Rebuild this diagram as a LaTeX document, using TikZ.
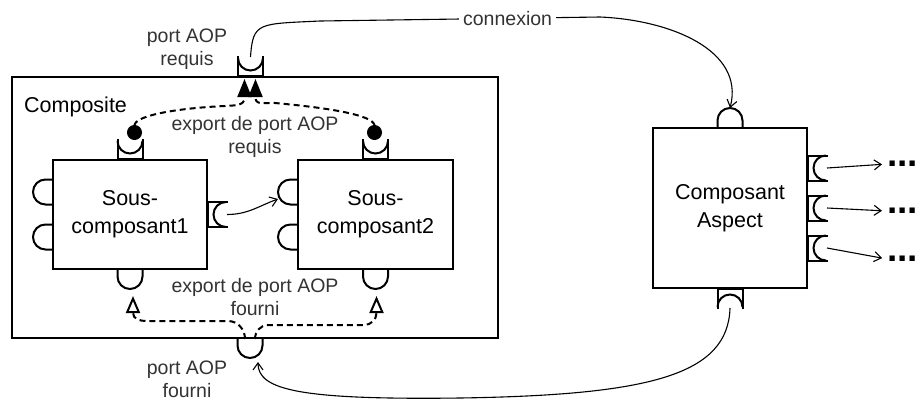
\documentclass[tikz,border=0pt]{standalone}
\usepackage{fontspec}
\setmainfont{Liberation Sans}
\usetikzlibrary{arrows.meta}
\newcommand{\boxfont}{\fontsize{21.5}{28}\selectfont}
\newcommand{\lblfont}{\fontsize{19.5}{23}\selectfont}
\tikzset{
    comp-box/.style = {draw, line width=2pt, rectangle, inner sep=0pt, align=center, font=\boxfont},
    box-title/.style = {inner sep=0pt, font=\boxfont},
    port-line/.style = {line width=2pt},
    port-label/.style = {text=black!80, align=center, inner sep=1pt, font=\lblfont},
    wire/.style = {line width=1.1pt, -{Straight Barb[length=7pt,width=10pt]}},
    export-line/.style = {line width=2pt, dash pattern=on 6pt off 4pt},
    more-dots/.style = {inner sep=0pt, font=\fontsize{37}{37}\selectfont\bfseries},
    % provided port: half disc on two short stubs
    pics/ball/.style = {code={
        \draw[port-line] (-12.5,0) -- (-12.5,6.5) arc[start angle=180, end angle=0, radius=12.5] -- (12.5,0);
        \coordinate (-tip) at (0,19);
        \coordinate (-base) at (0,0);
    }},
    % required port: open cup between two stubs
    pics/socket/.style = {code={
        \draw[port-line] (-12.5,20) -- (-12.5,0) -- (12.5,0) -- (12.5,20);
        \draw[port-line] (-12.5,18) arc[start angle=180, end angle=360, radius=12.5];
        \coordinate (-tip) at (0,19);
        \coordinate (-base) at (0,0);
    }},
}

\begin{document}
\begin{tikzpicture}[x=1pt, y=1pt]
\fill[white] (0,0) rectangle (917,-400);
\useasboundingbox (0,0) rectangle (917,-400);

% components
\node[comp-box, minimum width=486pt, minimum height=261pt] (composite) at (255,-207.5) {};
\node[box-title, anchor=base west] (composite-title) at ([xshift=13pt,yshift=-36pt]composite.north west) {Composite};
\node[comp-box, minimum width=154pt, minimum height=109pt] (sub1) at (130,-214.5) {Sous-\\composant1};
\node[comp-box, minimum width=155pt, minimum height=109pt] (sub2) at (375.5,-214.5) {Sous-\\composant2};
\node[comp-box, minimum width=154pt, minimum height=160pt] (aspect) at (730,-208) {Composant\\Aspect};

% ports of the composite
\pic (req) at ([xshift=-4.5pt]composite.north) {socket};
\pic[rotate=180] (prov) at ([xshift=-5pt]composite.south) {ball};

% ports of the sub-components
\pic (req1) at (sub1.north) {socket};
\pic (req2) at (sub2.north) {socket};
\pic[rotate=180] (prov1) at (sub1.south) {ball};
\pic[rotate=180] (prov2) at (sub2.south) {ball};
\pic[rotate=-90] (out1) at (sub1.east) {socket};
\pic[rotate=90] (in1a) at ([yshift=22.5pt]sub1.west) {ball};
\pic[rotate=90] (in1b) at ([yshift=-22.5pt]sub1.west) {ball};
\pic[rotate=90] (in2a) at ([yshift=22.5pt]sub2.west) {ball};
\pic[rotate=90] (in2b) at ([yshift=-22.5pt]sub2.west) {ball};

% ports of the aspect
\pic (asp-in) at (aspect.north) {ball};
\pic[rotate=180] (asp-out) at (aspect.south) {socket};
\foreach \i/\dy/\ty in {1/40/164, 2/0/211, 3/-40/259} {
    \pic[rotate=-90] (adv\i) at ([yshift=\dy pt]aspect.east) {socket};
    \node[more-dots, anchor=west] (more\i) at (887,-\ty) {...};
    \draw[wire, shorten >=5pt] (adv\i-tip) -- (more\i.west);
}

% labels
\node[port-label] (req-label) at (187,-49) {port AOP\\requis};
\node[port-label] (prov-label) at (187,-379) {port AOP\\fourni};
\node[port-label] (export-req) at (255,-137) {export de port AOP\\requis};
\node[port-label] (export-prov) at (255,-297.5) {export de port AOP\\fourni};

% connexions
\draw[wire] (req-tip) .. controls (253,-22) and (258,-24) .. (320,-21)
    -- node[port-label, fill=white, pos=0.67, inner xsep=4pt] (conn-label) {connexion} (600,-17)
    .. controls (670,-20) and (745,-50) .. (asp-in-tip);
\draw[wire] (asp-out-tip) .. controls (728,-375) and (650,-395) .. (460,-398)
    .. controls (300,-400) and (258,-390) .. ([xshift=8pt,yshift=-4pt]prov-tip);
\draw[wire] (out1-tip) to[out=0, in=200] ([yshift=-7pt]in2a-tip);

% exported required ports
\draw[export-line, {Circle[length=15pt]}-{Triangle[length=18pt,width=14pt]}]
    ([xshift=4.5pt]req1-tip) -- ++(0,15) .. controls (136,-115) and (180,-108) .. (225,-106)
    to[out=5, in=-90] (244.5,-98) -- ([xshift=-6pt,yshift=-3pt]req-base);
\draw[export-line, {Circle[length=15pt]}-{Triangle[length=18pt,width=14pt]}]
    ([xshift=-1pt]req2-tip) -- ++(0,15) .. controls (372,-115) and (330,-108) .. (275,-103)
    to[out=175, in=-90] (255.5,-98) -- ([xshift=5pt,yshift=-3pt]req-base);

% exported provided ports
\draw[export-line, -{Triangle[open,length=17pt,width=14pt]}]
    ([xshift=-5pt]prov-base) to[out=90, in=0] (228,-321) -- (146,-321)
    to[out=180, in=-90] ([xshift=3pt,yshift=-24pt]prov1-tip) -- ([xshift=3pt,yshift=-7pt]prov1-tip);
\draw[export-line, -{Triangle[open,length=17pt,width=14pt]}]
    ([xshift=5pt]prov-base) to[out=90, in=180] (268,-325) -- (364,-325)
    to[out=0, in=-90] ([xshift=1pt,yshift=-24pt]prov2-tip) -- ([xshift=1pt,yshift=-7pt]prov2-tip);
\end{tikzpicture}
\end{document}
